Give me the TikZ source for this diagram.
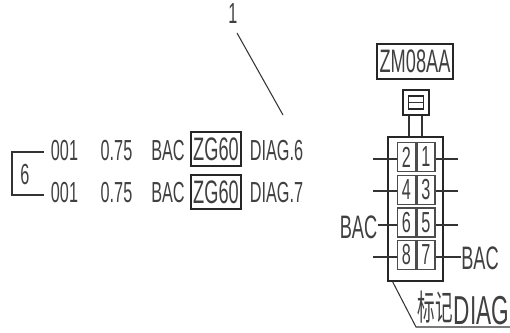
\documentclass[tikz,border=0pt]{standalone}
\usepackage{fontspec}
\newfontfamily\cadfont[FakeStretch=0.56]{Liberation Sans}
\newfontfamily\cjk[FakeStretch=0.5]{Noto Sans CJK SC}
\usepackage{tikz}
\usetikzlibrary{positioning}
\tikzset{
  wire/.style={draw=black!80,line width=0.6pt},
  cadtext/.style={inner sep=0pt,text=black!75,font=\cadfont\fontsize{16.5}{16.5}\selectfont},
  midtext/.style={inner sep=0pt,text=black!75,font=\cadfont\fontsize{18.5}{18.5}\selectfont},
  bigtext/.style={inner sep=0pt,text=black!75,font=\cadfont\fontsize{23}{23}\selectfont},
  framed/.style={midtext,draw=black!85,line width=0.6pt,minimum height=0.68cm},
  pin/.style={cadtext,draw=black!70,line width=0.8pt,minimum width=0.36cm,minimum height=0.58cm}
}
\begin{document}
\begin{tikzpicture}[x=0.02cm,y=-0.02cm]
      \useasboundingbox (0,0) rectangle (510,332);
      % callout
      \node[cadtext] (one) at (233,14) {1};
      \coordinate (start) at (237,33);
      \coordinate (tip) at (283,115);
      \draw[wire] (start) -- (tip);
      % wire rows
      \node[cadtext] (six) at (25,175) {6};
      \node[cadtext] (numa) at (64.5,151) {001};
      \node[cadtext] (numb) at (64.5,193) {001};
      \node[cadtext] at (116.5,151) (sizea) {0.75};
      \node[cadtext] at (116.5,193) (sizeb) {0.75};
      \node[cadtext] at (168,151) (cola) {BAC};
      \node[cadtext] at (168,193) (colb) {BAC};
      \node[framed,minimum width=1cm] at (216,149) (zga) {ZG60};
      \node[framed,minimum width=1cm] at (216,192) (zgb) {ZG60};
      \node[cadtext] at (276.5,151) (diaga) {DIAG.6};
      \node[cadtext] at (276.5,193) (diagb) {DIAG.7};
      \draw[wire] (numa.west |- 0,152) ++(-7,0) -| (12,174) |- ([xshift=-7*0.567pt]numb.west |- 0,195);
      % connector
      \node[framed,minimum width=1.52cm,minimum height=0.7cm] (code) at (415,61.5) {ZM08AA};
      \node[draw=black!85,line width=0.6pt,minimum width=0.52cm,minimum height=0.5cm,inner sep=0pt] (lock) at (416,102.5) {};
      \node[draw=black!85,line width=0.6pt,minimum width=0.3cm,minimum height=0.26cm,inner sep=0pt] (key) at (lock.center) {};
      \draw[wire] (key.west) -- (key.east);
      \node[draw=black!85,line width=0.6pt,minimum width=1.1cm,minimum height=2.88cm,inner sep=0pt] (body) at (415.5,209) {};
      \draw[wire] (lock.south -| 409,0) -- (body.north -| 409,0);
      \draw[wire] (lock.south -| 422,0) -- (body.north -| 422,0);
      \node[pin] (pin2) at (406.5,157) {2};
      \node[pin] (pin1) at (426,157) {1};
      \node[pin] (pin4) at (406.5,190) {4};
      \node[pin] (pin3) at (426,190) {3};
      \node[pin] (pin6) at (406.5,222.5) {6};
      \node[pin] (pin5) at (426,222.5) {5};
      \node[pin] (pin8) at (406.5,255) {8};
      \node[pin] (pin7) at (426,255) {7};
      \node[midtext] (bacl) at (358.5,227) {BAC};
      \node[midtext] (bacr) at (480,258) {BAC};
      \coordinate (lead2) at (373,159);
      \coordinate (lead1) at (458,159);
      \coordinate (lead4) at (373,191);
      \coordinate (lead3) at (458,191);
      \coordinate (lead5) at (458,225);
      \coordinate (lead8) at (373,257);
      \draw[wire] (lead2) -- (lead2 -| pin2.west);
      \draw[wire] (lead1) -- (lead1 -| pin1.east);
      \draw[wire] (lead4) -- (lead4 -| pin4.west);
      \draw[wire] (lead3) -- (lead3 -| pin3.east);
      \draw[wire] (bacl.east |- 0,225) -- (pin6.west |- 0,225);
      \draw[wire] (lead5) -- (lead5 -| pin5.east);
      \draw[wire] (lead8) -- (lead8 -| pin8.west);
      \draw[wire] (bacr.west |- 0,257) -- (pin7.east |- 0,257);
      % mark
      \node[inner sep=0pt,text=black!75,font=\cjk\fontsize{20}{20}\selectfont] (mark) at (435,307) {标记};
      \node[bigtext] (tag) at (481.5,311) {DIAG};
      \coordinate (under) at (510,327);
      \draw[wire] (body.south west) ++(5,0) -- (416,327) -- (under);
   \end{tikzpicture}
\end{document}
